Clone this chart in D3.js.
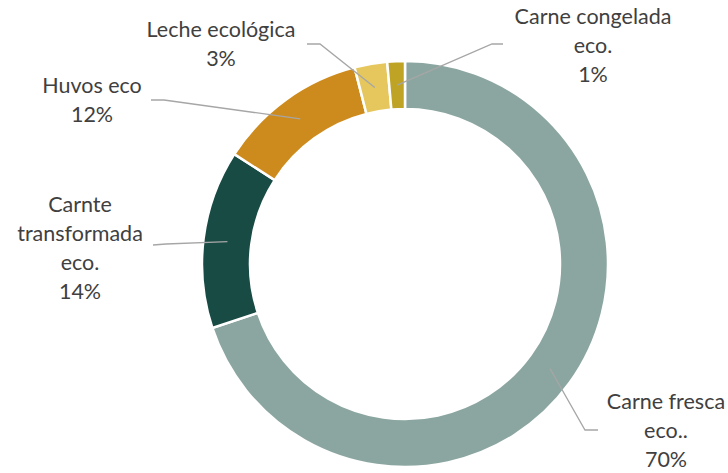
<!DOCTYPE html>
<html>
<head>
<meta charset="utf-8">
<script src="https://cdn.jsdelivr.net/npm/d3@7"></script>
<style>
  html, body { margin: 0; padding: 0; background: #ffffff; }
  svg { display: block; }
  text { font-family: Lato, "Open Sans", sans-serif; fill: #404040; }
</style>
</head>
<body>
<svg id="chart" width="728" height="473"></svg>
<script>
// ---- data ----
const categories = [
  ["Carne fresca", "eco.."],
  ["Carnte", "transformada", "eco."],
  ["Huvos eco"],
  ["Leche ecológica"],
  ["Carne congelada", "eco."]
];
const values = [69.9, 14.2, 11.9, 2.6, 1.4];
const colors = ["#8BA6A0", "#194B45", "#CE8B1D", "#E5C75E", "#BEA324"];

// ---- label layout (leader elbow / end, label centre x, first baseline) ----
const labelLayout = [
  { elbow: [585, 430], end: [598, 430], x: 666, y: 409 },
  { elbow: [166, 244], end: [153, 245], x: 80,  y: 212 },
  { elbow: [164, 100], end: [151, 100], x: 92,  y: 93 },
  { elbow: [320, 44],  end: [307, 44],  x: 221, y: 37 },
  { elbow: [492, 44],  end: [503, 44],  x: 593, y: 24 }
];

const W = 728, H = 473;
const cx = 405, cy = 264;
const outerR = 203, innerR = 155;
const lineH = 29;

const svg = d3.select("#chart");
const g = svg.append("g").attr("transform", `translate(${cx},${cy})`);

const pie = d3.pie().sort(null).value(d => d)(values);
const arc = d3.arc().innerRadius(innerR).outerRadius(outerR);

g.selectAll("path.slice")
  .data(pie)
  .join("path")
  .attr("class", "slice")
  .attr("d", arc)
  .attr("fill", (d, i) => colors[i])
  .attr("stroke", "#ffffff")
  .attr("stroke-width", 2.5)
  .attr("stroke-linejoin", "miter");

// leader lines
const lines = svg.append("g");
pie.forEach((d, i) => {
  const c = arc.centroid(d);
  const L = labelLayout[i];
  lines.append("polyline")
    .attr("points", [[c[0] + cx, c[1] + cy], L.elbow, L.end].map(p => p.join(",")).join(" "))
    .attr("fill", "none")
    .attr("stroke", "#A6A6A6")
    .attr("stroke-width", 1.3);
});

// labels
const labels = svg.append("g");
pie.forEach((d, i) => {
  const L = labelLayout[i];
  const rows = categories[i].concat([Math.round(values[i]) + "%"]);
  const t = labels.append("text")
    .attr("text-anchor", "middle")
    .attr("font-size", 21.5);
  rows.forEach((r, k) => {
    t.append("tspan").attr("x", L.x).attr("y", L.y + k * lineH).text(r);
  });
});
</script>
</body>
</html>
